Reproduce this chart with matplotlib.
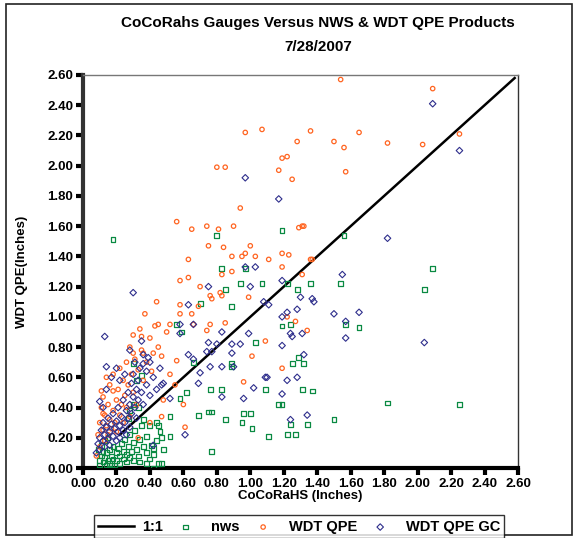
import matplotlib
matplotlib.use("Agg")
import matplotlib.pyplot as plt
import numpy as np
from matplotlib.patches import Rectangle

plt.rcParams['font.family'] = ['Liberation Sans', 'DejaVu Sans']
plt.rcParams['font.weight'] = 'bold'

# CoCoRaHS gauge (x) vs product (y), inches
nws = [(1.56, 1.54), (2.09, 1.32), (0.18, 1.51), (0.80, 1.54), (1.19, 1.57), (0.83, 1.32),
       (0.97, 1.32), (0.94, 1.22), (1.07, 1.22), (1.22, 1.22), (1.36, 1.22), (0.85, 1.18),
       (1.28, 1.18), (0.70, 1.09), (0.89, 1.07), (2.04, 1.18), (1.54, 1.22), (1.57, 0.95),
       (1.65, 0.93), (1.24, 0.95), (1.19, 0.94), (1.29, 0.73), (1.25, 0.69), (1.32, 0.69),
       (1.09, 0.52), (1.31, 0.52), (1.37, 0.51), (1.17, 0.42), (1.19, 0.42), (1.82, 0.43),
       (2.25, 0.42), (1.50, 0.32), (1.24, 0.29), (1.34, 0.29), (1.22, 0.22), (1.27, 0.22),
       (1.11, 0.21), (0.56, 0.95), (0.59, 0.90), (1.03, 0.83), (0.89, 0.67), (0.89, 0.69),
       (0.66, 0.70), (0.76, 0.52), (0.83, 0.52), (0.62, 0.50), (0.58, 0.46), (0.52, 0.34),
       (0.75, 0.37), (0.77, 0.37), (0.69, 0.35), (0.85, 0.32), (0.96, 0.36), (1.00, 0.36),
       (0.95, 0.30), (1.01, 0.26), (0.77, 0.11), (0.45, 0.28), (0.38, 0.21), (0.47, 0.20),
       (0.52, 0.21), (0.41, 0.15), (0.42, 0.09), (0.47, 0.03), (0.38, 0.03), (0.42, 0.00),
       (0.10, 0.02), (0.10, 0.05), (0.11, 0.08), (0.12, 0.04), (0.12, 0.11), (0.13, 0.07),
       (0.14, 0.02), (0.14, 0.10), (0.15, 0.05), (0.16, 0.12), (0.16, 0.03), (0.17, 0.08),
       (0.18, 0.06), (0.18, 0.14), (0.19, 0.02), (0.20, 0.10), (0.20, 0.05), (0.21, 0.13),
       (0.22, 0.08), (0.22, 0.03), (0.23, 0.16), (0.24, 0.06), (0.24, 0.11), (0.25, 0.19),
       (0.26, 0.09), (0.26, 0.04), (0.27, 0.14), (0.28, 0.07), (0.28, 0.22), (0.29, 0.11),
       (0.30, 0.17), (0.30, 0.05), (0.31, 0.25), (0.32, 0.12), (0.33, 0.08), (0.34, 0.19),
       (0.35, 0.28), (0.36, 0.14), (0.38, 0.10), (0.40, 0.06), (0.42, 0.13),
       (0.44, 0.18), (0.46, 0.24), (0.48, 0.12), (0.45, 0.03), (0.09, 0.12), (0.11, 0.15),
       (0.13, 0.18), (0.15, 0.20), (0.17, 0.02), (0.34, 0.04), (0.36, 0.32), (0.33, 0.40),
       (0.30, 0.42), (0.28, 0.38), (0.27, 0.33), (0.32, 0.58), (0.35, 0.61), (0.30, 0.69),
       (0.40, 0.28), (0.44, 0.30)]

wdt_qpe = [(1.54, 2.57), (2.09, 2.51), (2.25, 2.21), (1.36, 2.23), (1.65, 2.22), (1.50, 2.16),
           (1.56, 2.12), (1.82, 2.15), (2.03, 2.14), (1.57, 1.96), (1.32, 1.60), (1.36, 1.38),
           (0.97, 2.22), (1.07, 2.24), (1.28, 2.16), (1.19, 2.05), (1.22, 2.06), (1.17, 1.97),
           (1.25, 1.91), (0.80, 1.99), (0.85, 1.99), (0.94, 1.72), (0.56, 1.63), (0.65, 1.58),
           (0.74, 1.60), (0.81, 1.58), (0.90, 1.60), (1.29, 1.59), (0.75, 1.47), (0.84, 1.46),
           (1.00, 1.47), (0.97, 1.42), (0.89, 1.40), (0.95, 1.40), (1.03, 1.40), (1.11, 1.38),
           (1.19, 1.42), (1.23, 1.41), (0.63, 1.38), (1.19, 1.33), (1.31, 1.60), (1.37, 1.38),
           (0.63, 1.26), (0.58, 1.24), (0.83, 1.28), (0.89, 1.30), (1.31, 1.28), (0.70, 1.20),
           (0.76, 1.14), (0.77, 1.12), (0.82, 1.16), (0.83, 1.14), (0.99, 1.13), (0.58, 1.08),
           (0.69, 1.07), (1.27, 0.97), (1.22, 1.00), (1.34, 0.91), (1.09, 0.84), (1.19, 0.66),
           (0.44, 1.10), (0.65, 1.02), (0.58, 1.02), (0.45, 0.95), (0.52, 0.95), (0.66, 0.95),
           (0.76, 0.95), (0.85, 0.96), (0.74, 0.91), (1.01, 0.74), (0.96, 0.57), (0.61, 0.27),
           (0.47, 0.34), (0.56, 0.71), (0.30, 0.76), (0.36, 0.76), (0.35, 0.87), (0.42, 0.76),
           (0.12, 0.36), (0.08, 0.08), (0.09, 0.22), (0.10, 0.14), (0.10, 0.30), (0.11, 0.40),
           (0.12, 0.25), (0.12, 0.47), (0.13, 0.18), (0.13, 0.35), (0.14, 0.28), (0.15, 0.22),
           (0.15, 0.42), (0.16, 0.32), (0.16, 0.55), (0.17, 0.26), (0.18, 0.38), (0.18, 0.62),
           (0.19, 0.30), (0.20, 0.45), (0.20, 0.24), (0.21, 0.52), (0.22, 0.35), (0.22, 0.66),
           (0.23, 0.42), (0.24, 0.58), (0.24, 0.30), (0.25, 0.48), (0.26, 0.70), (0.26, 0.40),
           (0.27, 0.55), (0.28, 0.34), (0.28, 0.80), (0.29, 0.62), (0.30, 0.50), (0.30, 0.88),
           (0.31, 0.72), (0.32, 0.42), (0.33, 0.65), (0.34, 0.92), (0.35, 0.78), (0.36, 0.58),
           (0.37, 1.02), (0.38, 0.70), (0.40, 0.86), (0.41, 0.64), (0.43, 0.94), (0.45, 0.80),
           (0.47, 0.74), (0.50, 0.90), (0.52, 0.62), (0.11, 0.51), (0.14, 0.60), (0.18, 0.51),
           (0.55, 0.55), (0.48, 0.45), (0.60, 0.42), (0.33, 0.20), (0.40, 0.30)]

wdt_qpe_gc = [(2.09, 2.41), (2.25, 2.10), (1.82, 1.52), (0.97, 1.92), (1.17, 1.78), (0.97, 1.33),
              (1.03, 1.33), (0.75, 1.20), (1.00, 1.20), (1.19, 1.24), (1.30, 1.13), (1.37, 1.12),
              (1.38, 1.10), (1.08, 1.10), (1.11, 1.08), (0.63, 1.08), (1.28, 1.05), (1.55, 1.28),
              (1.22, 1.03), (1.19, 1.00), (1.50, 1.02), (1.65, 1.03), (1.57, 0.97), (1.24, 0.89),
              (1.25, 0.87), (1.31, 0.89), (1.57, 0.86), (1.19, 0.81), (2.04, 0.83), (1.32, 0.75),
              (1.09, 0.60), (1.22, 0.58), (1.28, 0.60), (1.19, 0.49), (1.34, 0.35), (1.24, 0.32),
              (0.58, 0.89), (0.13, 0.87), (0.14, 0.67), (0.75, 0.83), (0.80, 0.82), (0.89, 0.82),
              (0.94, 0.82), (0.99, 0.89), (0.83, 0.90), (0.63, 0.75), (0.66, 0.72), (0.74, 0.77),
              (0.77, 0.77), (0.89, 0.76), (0.76, 0.67), (0.70, 0.63), (0.83, 0.67), (0.90, 0.67),
              (1.10, 0.60), (1.02, 0.53), (0.96, 0.46), (0.83, 0.47), (0.69, 0.56), (0.52, 0.46),
              (0.61, 0.22), (0.42, 0.15), (0.47, 0.55), (0.39, 0.73), (0.36, 0.69), (0.30, 1.16),
              (0.58, 0.95), (0.66, 0.95), (0.08, 0.10), (0.09, 0.16), (0.10, 0.12), (0.10, 0.20),
              (0.11, 0.25), (0.12, 0.18), (0.12, 0.30), (0.13, 0.14), (0.13, 0.22), (0.14, 0.27),
              (0.15, 0.19), (0.15, 0.33), (0.16, 0.24), (0.16, 0.15), (0.17, 0.29), (0.18, 0.21),
              (0.18, 0.36), (0.19, 0.26), (0.20, 0.18), (0.20, 0.31), (0.21, 0.24), (0.21, 0.40),
              (0.22, 0.28), (0.22, 0.20), (0.23, 0.34), (0.24, 0.25), (0.24, 0.45), (0.25, 0.30),
              (0.26, 0.38), (0.26, 0.22), (0.27, 0.50), (0.27, 0.33), (0.28, 0.42), (0.28, 0.27),
              (0.29, 0.56), (0.29, 0.36), (0.30, 0.47), (0.30, 0.62), (0.31, 0.40), (0.31, 0.70),
              (0.32, 0.52), (0.32, 0.33), (0.33, 0.58), (0.33, 0.45), (0.34, 0.66), (0.35, 0.50),
              (0.36, 0.42), (0.36, 0.75), (0.38, 0.55), (0.38, 0.64), (0.40, 0.48), (0.40, 0.70),
              (0.42, 0.60), (0.44, 0.52), (0.46, 0.66), (0.48, 0.56), (0.12, 0.40), (0.14, 0.52),
              (0.10, 0.44), (0.17, 0.60), (0.22, 0.58), (0.20, 0.66), (0.25, 0.62), (0.28, 0.78),
              (0.35, 0.84)]

one_to_one = [0.22, 2.58]
ticks = np.arange(0, 2.61, 0.2)

fig = plt.figure(figsize=(5.75, 5.38), dpi=100)
ax = fig.add_axes([0.1443, 0.1301, 0.7566, 0.7305])

ax.plot(one_to_one, one_to_one, color="black", lw=1.8, label="1:1", zorder=2)
nws_a = np.array(nws)
qpe_a = np.array(wdt_qpe)
gc_a = np.array(wdt_qpe_gc)
ax.scatter(nws_a[:, 0], nws_a[:, 1], marker="s", s=12, facecolors="none",
           edgecolors="#0a8a42", linewidths=0.9, label="nws", zorder=3)
ax.scatter(qpe_a[:, 0], qpe_a[:, 1], marker="o", s=10, facecolors="none",
           edgecolors="#ff6420", linewidths=0.9, label="WDT QPE", zorder=3)
ax.scatter(gc_a[:, 0], gc_a[:, 1], marker="D", s=11, facecolors="none",
           edgecolors="#2e2e8c", linewidths=0.8, label="WDT QPE GC", zorder=4)

ax.set_xlim(0, 2.6)
ax.set_ylim(0, 2.6)
ax.set_xticks(ticks)
ax.set_yticks(ticks)
ax.set_xticklabels(["%.2f" % t for t in ticks], fontsize=9.5, fontweight="bold")
ax.set_yticklabels(["%.2f" % t for t in ticks], fontsize=9.5, fontweight="bold")
ax.tick_params(axis="both", direction="out", length=5, width=3, color="black", pad=2)
ax.spines["left"].set_linewidth(3)
ax.spines["left"].set_color("#333333")
ax.spines["bottom"].set_linewidth(3)
ax.spines["bottom"].set_color("black")
ax.spines["top"].set_linewidth(1)
ax.spines["top"].set_color("#777777")
ax.spines["right"].set_linewidth(1)
ax.spines["right"].set_color("#333333")

ax.set_xlabel("CoCoRaHS (Inches)", fontsize=9.5, fontweight="bold", labelpad=0)
ax.set_ylabel("WDT QPE(Inches)", fontsize=9.5, fontweight="bold", labelpad=14)

fig.text(0.553, 0.957, "CoCoRahs Gauges Versus NWS & WDT QPE Products",
         ha="center", va="center", fontsize=11, fontweight="bold")
fig.text(0.553, 0.913, "7/28/2007", ha="center", va="center",
         fontsize=11, fontweight="bold")

leg = fig.legend(loc="lower left", bbox_to_anchor=(0.15, -0.014, 0.74, 0.05),
                 ncol=4, mode="expand", frameon=True, fancybox=False,
                 prop={"size": 10.5, "weight": "bold"}, handlelength=2.5,
                 handletextpad=0.5, borderpad=0.3, markerscale=1.0)
leg.get_frame().set_edgecolor("black")
leg.get_frame().set_linewidth(1)

fig.patches.append(Rectangle((0.011, 0.006), 0.983, 0.986, transform=fig.transFigure,
                             fill=False, edgecolor="#222222", lw=1.2))

fig.savefig("out.png", dpi=100)
